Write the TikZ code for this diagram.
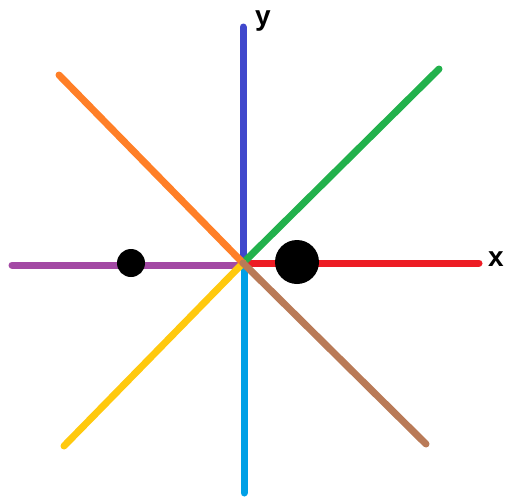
\documentclass[tikz,border=0pt]{standalone}
\usepackage{fontspec}
\setsansfont{Liberation Sans}
\definecolor{cblue}{RGB}{64,72,204}
\definecolor{clblue}{RGB}{0,160,230}
\definecolor{cred}{RGB}{237,28,36}
\definecolor{cpurple}{RGB}{163,73,164}
\definecolor{cgreen}{RGB}{34,177,76}
\definecolor{corange}{RGB}{255,127,39}
\definecolor{cyellow}{RGB}{255,201,14}
\definecolor{cbrown}{RGB}{185,122,87}
\tikzset{
  ray/.style={line width=7pt, line cap=round},
  dot/.style={circle, inner sep=0pt, fill=black, draw=none},
  axlabel/.style={font=\sffamily\bfseries\fontsize{28}{28}\selectfont, inner sep=0pt}
}
\begin{document}
\begin{tikzpicture}[x=1pt, y=-1pt]
			\useasboundingbox (0,0) rectangle (507,499);
			\coordinate (o) at (243,263);
			\coordinate (yt) at (243,27);
			\coordinate (yb) at (244,493);
			\coordinate (xr) at (479,263);
			\coordinate (xl) at (12,265);
			\coordinate (ne) at (439,69);
			\coordinate (nw) at (59,75);
			\coordinate (sw) at (64,446);
			\coordinate (se) at (426,444);
			\draw[ray, cblue] (yt) -- (o);
			\draw[ray, cpurple] (xl) -- (243,265);
			\draw[ray, cred] (o) -- (xr);
			\draw[ray, cgreen] (o) -- (ne);
			\draw[ray, clblue] (244,266) -- (yb);
			\draw[ray, cyellow] (o) -- (sw);
			\draw[ray, corange] (nw) -- (o);
			\draw[ray, cbrown] (o) -- (se);
			\node[dot, minimum size=28pt](d1) at (131,263){};
			\node[dot, minimum size=44pt](d2) at (297,262){};
			\node[axlabel](lx) at (496,259){x};
			\node[axlabel](ly) at (263,21){y};
			\end{tikzpicture}
\end{document}
